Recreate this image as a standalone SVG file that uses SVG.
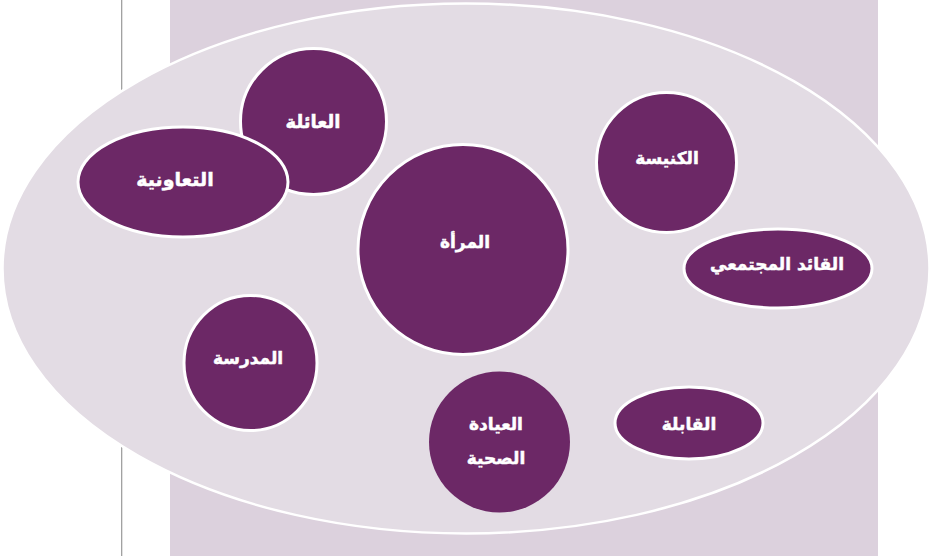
<svg xmlns="http://www.w3.org/2000/svg" width="932" height="556" viewBox="0 0 932 556">
<style>
.n{fill:#6c2866;stroke:#fff;stroke-width:3}
.t{fill:#fff;stroke:#fff;stroke-width:.5;font-family:"DejaVu Sans",sans-serif;font-size:17px;font-weight:bold;text-anchor:middle;direction:rtl}
</style>
<rect width="932" height="556" fill="#fff"/>
<rect id="backdrop" x="170" y="0" width="708" height="556" fill="#dcd1dd"/>
<g id="rule" stroke="#999" stroke-width="1.2"><path d="M121.7 0V90M121.7 447V556" fill="none"/></g>
<ellipse id="outer" cx="466" cy="268.5" rx="463.5" ry="265" fill="#e3dce4" stroke="#fff" stroke-width="2.5"/>
<g id="connectors"></g>
<g id="n-family"><circle class="n" cx="313.5" cy="121.5" r="73"/><text class="t" x="313" y="128" style="font-size:18px">العائلة</text></g>
<g id="n-coop"><ellipse class="n" cx="183" cy="182" rx="105" ry="55"/><text class="t" x="175" y="186" style="font-size:19px">التعاونية</text></g>
<g id="n-woman"><circle class="n" cx="463" cy="249.5" r="105"/><text class="t" x="465" y="248">المرأة</text></g>
<g id="n-church"><circle class="n" cx="666.5" cy="162.5" r="70"/><text class="t" x="667" y="164">الكنيسة</text></g>
<g id="n-leader"><ellipse class="n" cx="778" cy="268.5" rx="94" ry="39.5"/><text class="t" x="777" y="270">القائد المجتمعي</text></g>
<g id="n-school"><ellipse class="n" cx="250.5" cy="363" rx="66.5" ry="67.5"/><text class="t" x="248" y="364">المدرسة</text></g>
<g id="n-clinic"><circle cx="499.5" cy="442" r="70.5" fill="#6c2866"/><text class="t" x="496" y="430">العيادة</text><text class="t" x="496" y="464">الصحية</text></g>
<g id="n-midwife"><ellipse class="n" cx="689" cy="423" rx="74" ry="36"/><text class="t" x="689" y="430">القابلة</text></g>
</svg>
